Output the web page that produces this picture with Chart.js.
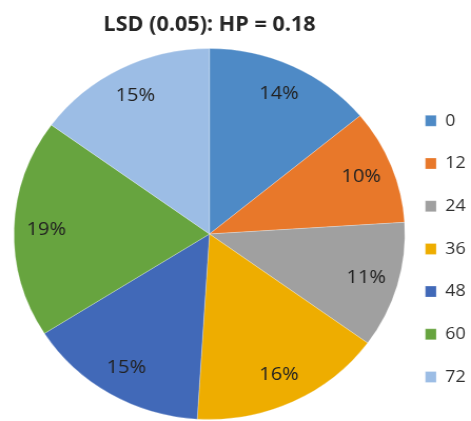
<!DOCTYPE html>
<html lang="en">
<head>
    <meta charset="UTF-8">
    <title>LSD (0.05): HP = 0.18</title>
    <script src="https://cdn.jsdelivr.net/npm/chart.js"></script>
    <style>
        html, body { margin: 0; padding: 0; background: #fff; overflow: hidden; }
        /* the original picture is a little stretched sideways */
        #wrap { width: 452px; height: 421px; transform: scaleX(1.0537); transform-origin: 0 0; }
    </style>
</head>
<body>
    <div id="wrap">
        <canvas id="pieChart"></canvas>
    </div>

    <script>
        // data
        const categories = ['0', '12', '24', '36', '48', '60', '72'];
        const shares = [14, 10, 11, 16, 15, 19, 15];
        const sliceColors = ['#4E8AC6', '#E8782A', '#A0A0A0', '#EEAD00', '#4169B8', '#67A43F', '#9CBDE5'];
        const chartTitle = 'LSD (0.05): HP = 0.18';

        // percent labels drawn inside each slice
        const pctLabels = {
            id: 'pctLabels',
            afterDatasetsDraw(chart) {
                const ctx = chart.ctx;
                const meta = chart.getDatasetMeta(0);
                const total = shares.reduce((a, b) => a + b, 0);
                ctx.save();
                ctx.font = '19px "Open Sans"';
                ctx.fillStyle = '#222';
                ctx.textAlign = 'center';
                ctx.textBaseline = 'middle';
                meta.data.forEach((arc, i) => {
                    const p = arc.getProps(['x', 'y', 'startAngle', 'endAngle', 'outerRadius'], true);
                    const mid = (p.startAngle + p.endAngle) / 2;
                    const r = p.outerRadius * 0.835;
                    ctx.fillText(Math.round(shares[i] / total * 100) + '%', p.x + Math.cos(mid) * r, p.y + Math.sin(mid) * r);
                });
                ctx.restore();
            }
        };

        const ctx = document.getElementById('pieChart').getContext('2d');
        new Chart(ctx, {
            type: 'pie',
            data: {
                labels: categories,
                datasets: [{
                    data: shares,
                    backgroundColor: sliceColors,
                    borderColor: 'rgba(255, 255, 255, 0.5)',
                    borderWidth: 0.5,
                    radius: 185.5
                }]
            },
            options: {
                responsive: true,
                maintainAspectRatio: false,
                animation: false,
                events: [],
                layout: {
                    padding: { top: 7, bottom: 9.8, left: 19.6, right: 0 }
                },
                plugins: {
                    title: {
                        display: true,
                        text: chartTitle,
                        fullSize: false,
                        color: '#262626',
                        font: { family: 'Open Sans', size: 20.5, weight: 'bold', lineHeight: 1.2 },
                        padding: { top: 6, bottom: 19.2 }
                    },
                    legend: {
                        position: 'right',
                        align: 'end',
                        labels: {
                            boxWidth: 10.4,
                            boxHeight: 11,
                            padding: 25.7,
                            color: '#303030',
                            font: { family: 'Open Sans', size: 17 }
                        }
                    },
                    tooltip: { enabled: false }
                }
            },
            plugins: [pctLabels]
        });
    </script>
</body>
</html>
